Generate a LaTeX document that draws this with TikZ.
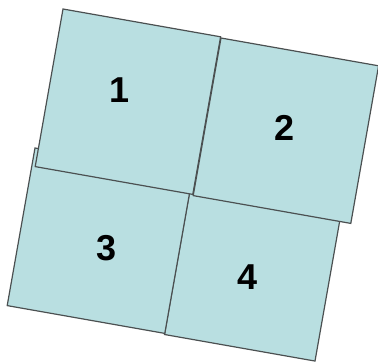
\documentclass[tikz,border=0pt]{standalone}
\usepackage{fontspec}
\setmainfont{Liberation Sans}
\usepackage{xcolor}
\usepackage{tikz}
\definecolor{tilefill}{RGB}{185,223,225}
\definecolor{tileline}{RGB}{75,80,81}

\begin{document}
\begin{tikzpicture}[x=1bp, y=-1bp,
  tile/.style={draw=tileline, fill=tilefill, line width=1.2bp, line join=miter},
  num/.style={font=\fontsize{36bp}{40bp}\selectfont\bfseries, inner sep=0pt}]
  \useasboundingbox (0,0) rectangle (378,363);
  % tiles, back to front (top-left corner / width)
  \foreach \x/\y/\w in {192.3/176.9/0.955, 35/148/1, 63/9/1, 221/38/1} {
    \draw[tile] (\x,\y) -- ++(\w*157.6,\w*27.8) -- ++(-27.8,157.6) -- ++(-\w*157.6,-\w*27.8) -- cycle;
  }
  \node[num] (n1) at (120,90) {1};
  \node[num] (n2) at (285,128) {2};
  \node[num] (n3) at (107,248) {3};
  \node[num] (n4) at (248,277) {4};
\end{tikzpicture}
\end{document}
